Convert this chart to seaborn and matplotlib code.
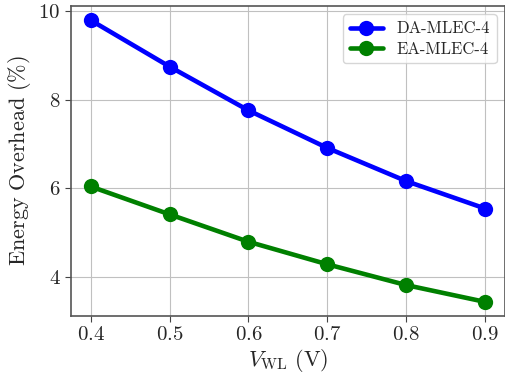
import pandas as pd
import matplotlib
matplotlib.use("Agg")
import matplotlib.pyplot as plt
import seaborn as sns

# Data
vwl = [0.4, 0.5, 0.6, 0.7, 0.8, 0.9]
da_mlec4 = [9.80, 8.75, 7.76, 6.91, 6.16, 5.54]
ea_mlec4 = [6.04, 5.41, 4.79, 4.28, 3.81, 3.43]
series_names = ["DA-MLEC-4", "EA-MLEC-4"]

df = pd.DataFrame({
    "VWL": vwl * 2,
    "Overhead": da_mlec4 + ea_mlec4,
    "Scheme": [series_names[0]] * len(vwl) + [series_names[1]] * len(vwl),
})

sns.set_style("whitegrid")
plt.rcParams["font.family"] = ["cmr10", "DejaVu Serif"]
plt.rcParams["mathtext.fontset"] = "cm"
plt.rcParams["axes.formatter.use_mathtext"] = True

fig = plt.figure(figsize=(5.06, 3.78), dpi=100)
ax = fig.add_axes([0.140, 0.164, 0.858, 0.820])

sns.lineplot(data=df, x="VWL", y="Overhead", hue="Scheme",
             palette=["blue", "green"], marker="o", markersize=11,
             markeredgewidth=0, linewidth=3.3, ax=ax)

ax.set_xticks(vwl)
ax.set_yticks([4, 6, 8, 10])
ax.tick_params(axis="both", labelsize=15, length=4, width=0.8,
               color="#444444", direction="out", bottom=True, left=True)
ax.grid(True, color="#c0c0c0", linewidth=0.8)
for s in ax.spines.values():
    s.set_color("#555555")
    s.set_linewidth(1.2)

ax.set_xlabel(r"$V_{\mathrm{WL}}\ \mathrm{(V)}$", fontsize=16, labelpad=2)
ax.set_ylabel(r"$\mathrm{Energy\ Overhead\ (\%)}$", fontsize=16, labelpad=4)

ax.legend(loc="upper right", fontsize=12, frameon=True, framealpha=0.8,
          edgecolor="#cccccc", handlelength=2, borderpad=0.4,
          labelspacing=0.3)

fig.savefig("out.png", dpi=100)
